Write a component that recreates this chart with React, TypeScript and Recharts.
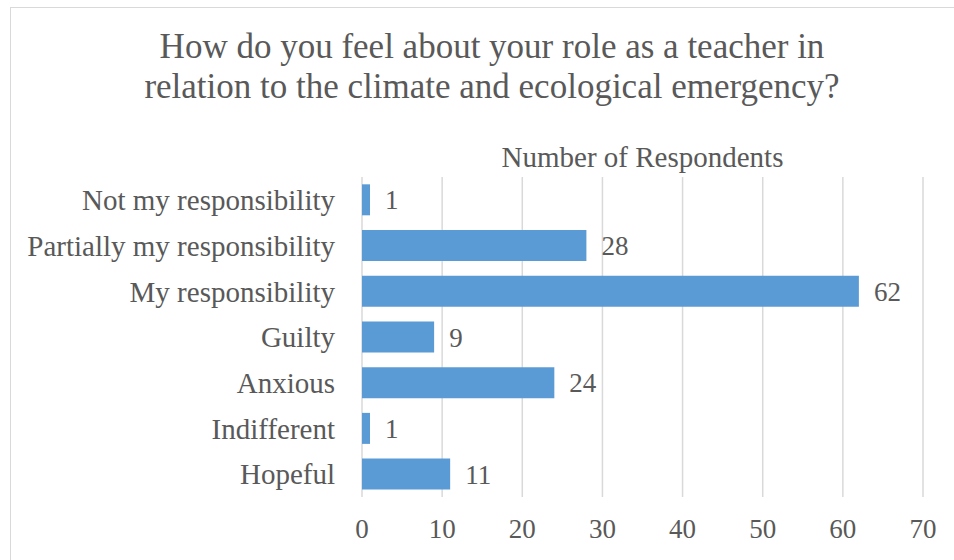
import React from "react";
import { BarChart, Bar, XAxis, YAxis, CartesianGrid, LabelList } from "recharts";

const categories = [
  "Not my responsibility",
  "Partially my responsibility",
  "My responsibility",
  "Guilty",
  "Anxious",
  "Indifferent",
  "Hopeful",
];
const respondents = [1, 28, 62, 9, 24, 1, 11];
const xTicks = [0, 10, 20, 30, 40, 50, 60, 70];

const data = categories.map((name, i) => ({ name, value: respondents[i] }));

const FONT = "Liberation Serif";
const TEXT = "#595959";

export default function App() {
  return (
    <div
      style={{
        position: "absolute",
        left: 0,
        top: 0,
        width: 954,
        height: 560,
        overflow: "hidden",
        background: "#fff",
        fontFamily: FONT,
      }}
    >
      <div
        style={{
          position: "absolute",
          left: 10,
          top: 7,
          width: 980,
          height: 600,
          border: "1px solid #D9D9D9",
        }}
      />
      <div
        style={{
          position: "absolute",
          left: 0,
          width: 984,
          top: 27,
          textAlign: "center",
          fontSize: 35,
          lineHeight: "40px",
          color: TEXT,
          fontFamily: FONT,
        }}
      >
        How do you feel about your role as a teacher in
        <br />
        relation to the climate and ecological emergency?
      </div>
      <div
        style={{
          position: "absolute",
          left: 362,
          width: 561,
          top: 141,
          textAlign: "center",
          fontSize: 29,
          lineHeight: "32px",
          color: TEXT,
          fontFamily: FONT,
        }}
      >
        Number of Respondents
      </div>
      <div style={{ position: "absolute", left: 0, top: 0 }}>
        <BarChart
          width={954}
          height={560}
          data={data}
          layout="vertical"
          margin={{ top: 177, right: 31, bottom: 33, left: 0 }}
          barCategoryGap="16%"
        >
          <CartesianGrid horizontal={false} stroke="#D9D9D9" strokeWidth={1.5} />
          <XAxis
            type="number"
            domain={[0, 70]}
            ticks={xTicks}
            axisLine={false}
            tickLine={false}
            tickSize={0}
            tickMargin={22}
            height={30}
            tick={{ fill: TEXT, fontSize: 27, fontFamily: FONT }}
            interval={0}
          />
          <YAxis
            type="category"
            dataKey="name"
            width={362}
            axisLine={false}
            tickLine={false}
            tickSize={0}
            tickMargin={27}
            interval={0}
            tick={{ fill: TEXT, fontSize: 29, fontFamily: FONT }}
          />
          <Bar dataKey="value" fill="#5B9BD5" isAnimationActive={false}>
            <LabelList
              dataKey="value"
              position="right"
              offset={15}
              fill={TEXT}
              fontSize={27}
              fontFamily={FONT}
            />
          </Bar>
        </BarChart>
      </div>
    </div>
  );
}
